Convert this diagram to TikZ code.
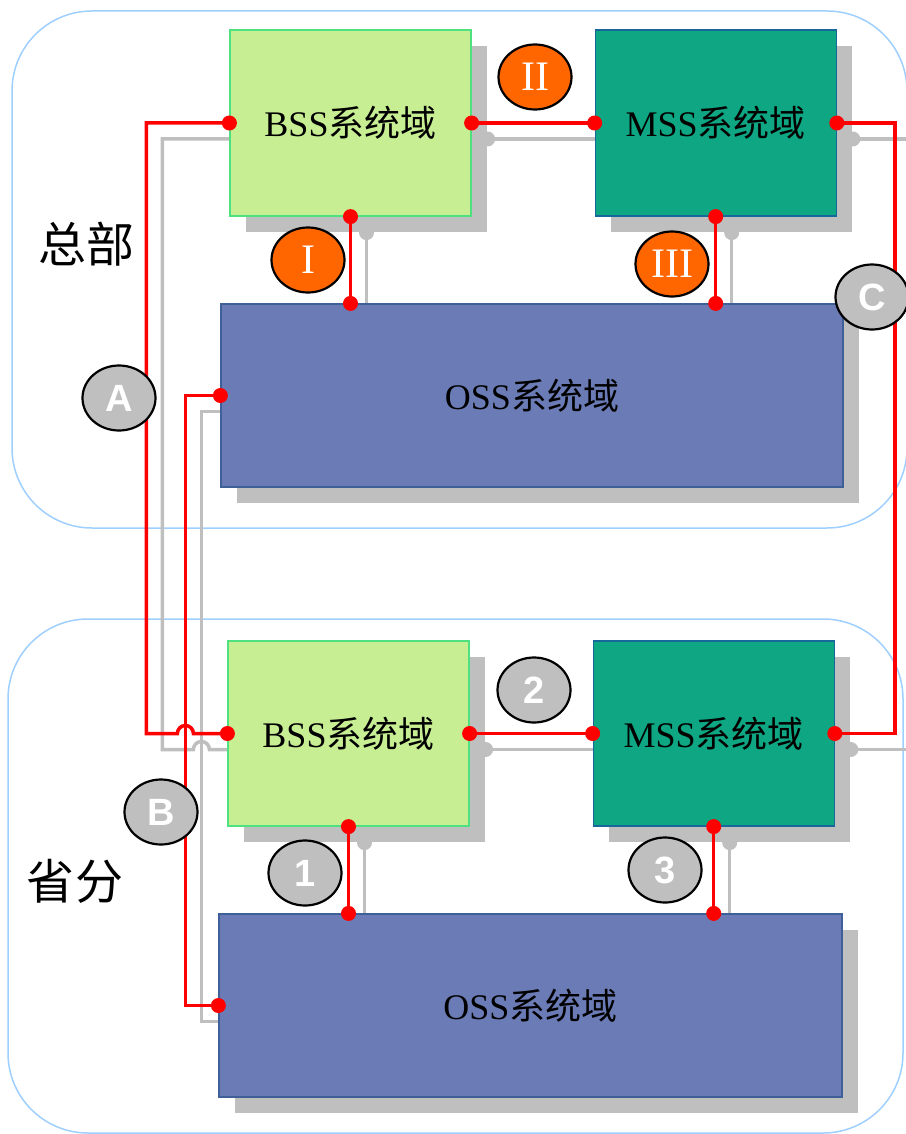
\documentclass[tikz,border=0pt]{standalone}
\usepackage{fontspec}
\setmainfont{Liberation Serif}
\newfontfamily\cjk{Noto Sans CJK SC}
\newfontfamily\tagsans{Liberation Sans}
\usepackage{tikz}
\usetikzlibrary{arrows.meta,positioning,shapes.geometric,shadows}
\definecolor{bssfill}{HTML}{C8EE94}
\definecolor{bssline}{HTML}{4FE07F}
\definecolor{mssfill}{HTML}{0EA683}
\definecolor{mssline}{HTML}{17689A}
\definecolor{ossfill}{HTML}{6B7BB6}
\definecolor{ossline}{HTML}{3F5F98}
\definecolor{shadowgray}{HTML}{BFBFBF}
\definecolor{linkred}{HTML}{FF0000}
\definecolor{tagorange}{HTML}{FF6600}
\definecolor{regionblue}{HTML}{9FCFFF}
\colorlet{wirecolor}{linkred}
\pgfdeclarelayer{background}
\pgfsetlayers{background,main}
\newcommand{\domainbox}[4]{
    \node[
        draw=#1line,
        fill=#1fill,
        line width=1.2pt,
        drop shadow={shadow xshift=16pt, shadow yshift=-16pt, fill=shadowgray, opacity=1},
        font=\fontsize{36}{36}\selectfont,
        #3
    ] (#2) {#4{\cjk 系统域}};
}
\newcommand{\wire}[1]{
    \begin{pgfonlayer}{background}
        \begin{scope}[transform canvas={xshift=16pt, yshift=-16pt}]
            \colorlet{wirecolor}{shadowgray}
            \draw[wireline] #1;
        \end{scope}
    \end{pgfonlayer}
    \draw[wireline] #1;
}

\begin{document}
\begin{tikzpicture}[x=1pt,y=-1pt,
    region/.style={draw=regionblue, line width=1.5pt, rounded corners=80pt},
    wireline/.style={draw=wirecolor, line width=3.5pt},
    dot/.style={circle, fill=wirecolor, inner sep=0pt, minimum size=15pt},
    tag/.style={ellipse, draw=black, line width=2.2pt, minimum width=73pt, minimum height=65pt, inner sep=0pt, text=white},
    orangetag/.style={tag, fill=tagorange, font=\fontsize{42}{42}\selectfont},
    graytag/.style={tag, fill=shadowgray, font=\tagsans\bfseries\fontsize{38}{38}\selectfont},
    arealabel/.style={font=\cjk\fontsize{48}{48}\selectfont}]
    \useasboundingbox (0,0) rectangle (905,1134);

    \begin{pgfonlayer}{background}
        \node[region, minimum width=895pt, minimum height=517pt] (hqregion) at (459.5,269.5) {};
        \node[region, minimum width=895pt, minimum height=514pt] (pvregion) at (455.5,876) {};
    \end{pgfonlayer}
    \node[arealabel] (hqlabel) at (86,244) {总部};
    \node[arealabel] (pvlabel) at (75,881) {省分};

    % headquarters
    \domainbox{bss}{hqbss}{at={(350.5,123)}, minimum width=241pt, minimum height=186pt}{BSS}
    \domainbox{mss}{hqmss}{right=123pt of hqbss, minimum width=241pt, minimum height=186pt}{MSS}
    \domainbox{oss}{hqoss}{at={(532,395.5)}, minimum width=622pt, minimum height=183pt}{OSS}
    % province
    \domainbox{bss}{pvbss}{at={(348.5,733.5)}, minimum width=241pt, minimum height=185pt}{BSS}
    \domainbox{mss}{pvmss}{right=123pt of pvbss, minimum width=241pt, minimum height=185pt}{MSS}
    \domainbox{oss}{pvoss}{at={(530.5,1005.5)}, minimum width=623pt, minimum height=183pt}{OSS}

    \wire{(hqbss.east) node[dot]{} -- (hqmss.west) node[dot]{}}
    \wire{(hqbss.south) node[dot]{} -- (hqbss.south |- hqoss.north) node[dot]{}}
    \wire{(hqmss.south) node[dot]{} -- (hqmss.south |- hqoss.north) node[dot]{}}
    \wire{(pvbss.east) node[dot]{} -- (pvmss.west) node[dot]{}}
    \wire{(pvbss.south) node[dot]{} -- (pvbss.south |- pvoss.north) node[dot]{}}
    \wire{(pvmss.south) node[dot]{} -- (pvmss.south |- pvoss.north) node[dot]{}}
    \wire{(hqoss.west) node[dot]{} -- ++(-35,0) |- (pvoss.west) node[dot]{}}
    \wire{(hqbss.west) node[dot]{} -- ++(-83,0) |- ([xshift=-50pt]pvbss.west) arc[start angle=180, end angle=0, radius=8pt] -- (pvbss.west) node[dot]{}}
    \wire{(hqmss.east) node[dot]{} -- ++(58,0) |- (pvmss.east) node[dot]{}}

    \node[orangetag] (tagI) at (308,260) {I};
    \node[orangetag] (tagII) at (535,77) {II};
    \node[orangetag] (tagIII) at (672,264) {III};
    \node[graytag] (tagA) at (119,398) {A};
    \node[graytag] (tagB) at (161,812) {B};
    \node[graytag] (tagC) at (872,297) {C};
    \node[graytag] (tag1) at (305,873) {1};
    \node[graytag] (tag2) at (534,690) {2};
    \node[graytag] (tag3) at (665,870) {3};
\end{tikzpicture}
\end{document}
